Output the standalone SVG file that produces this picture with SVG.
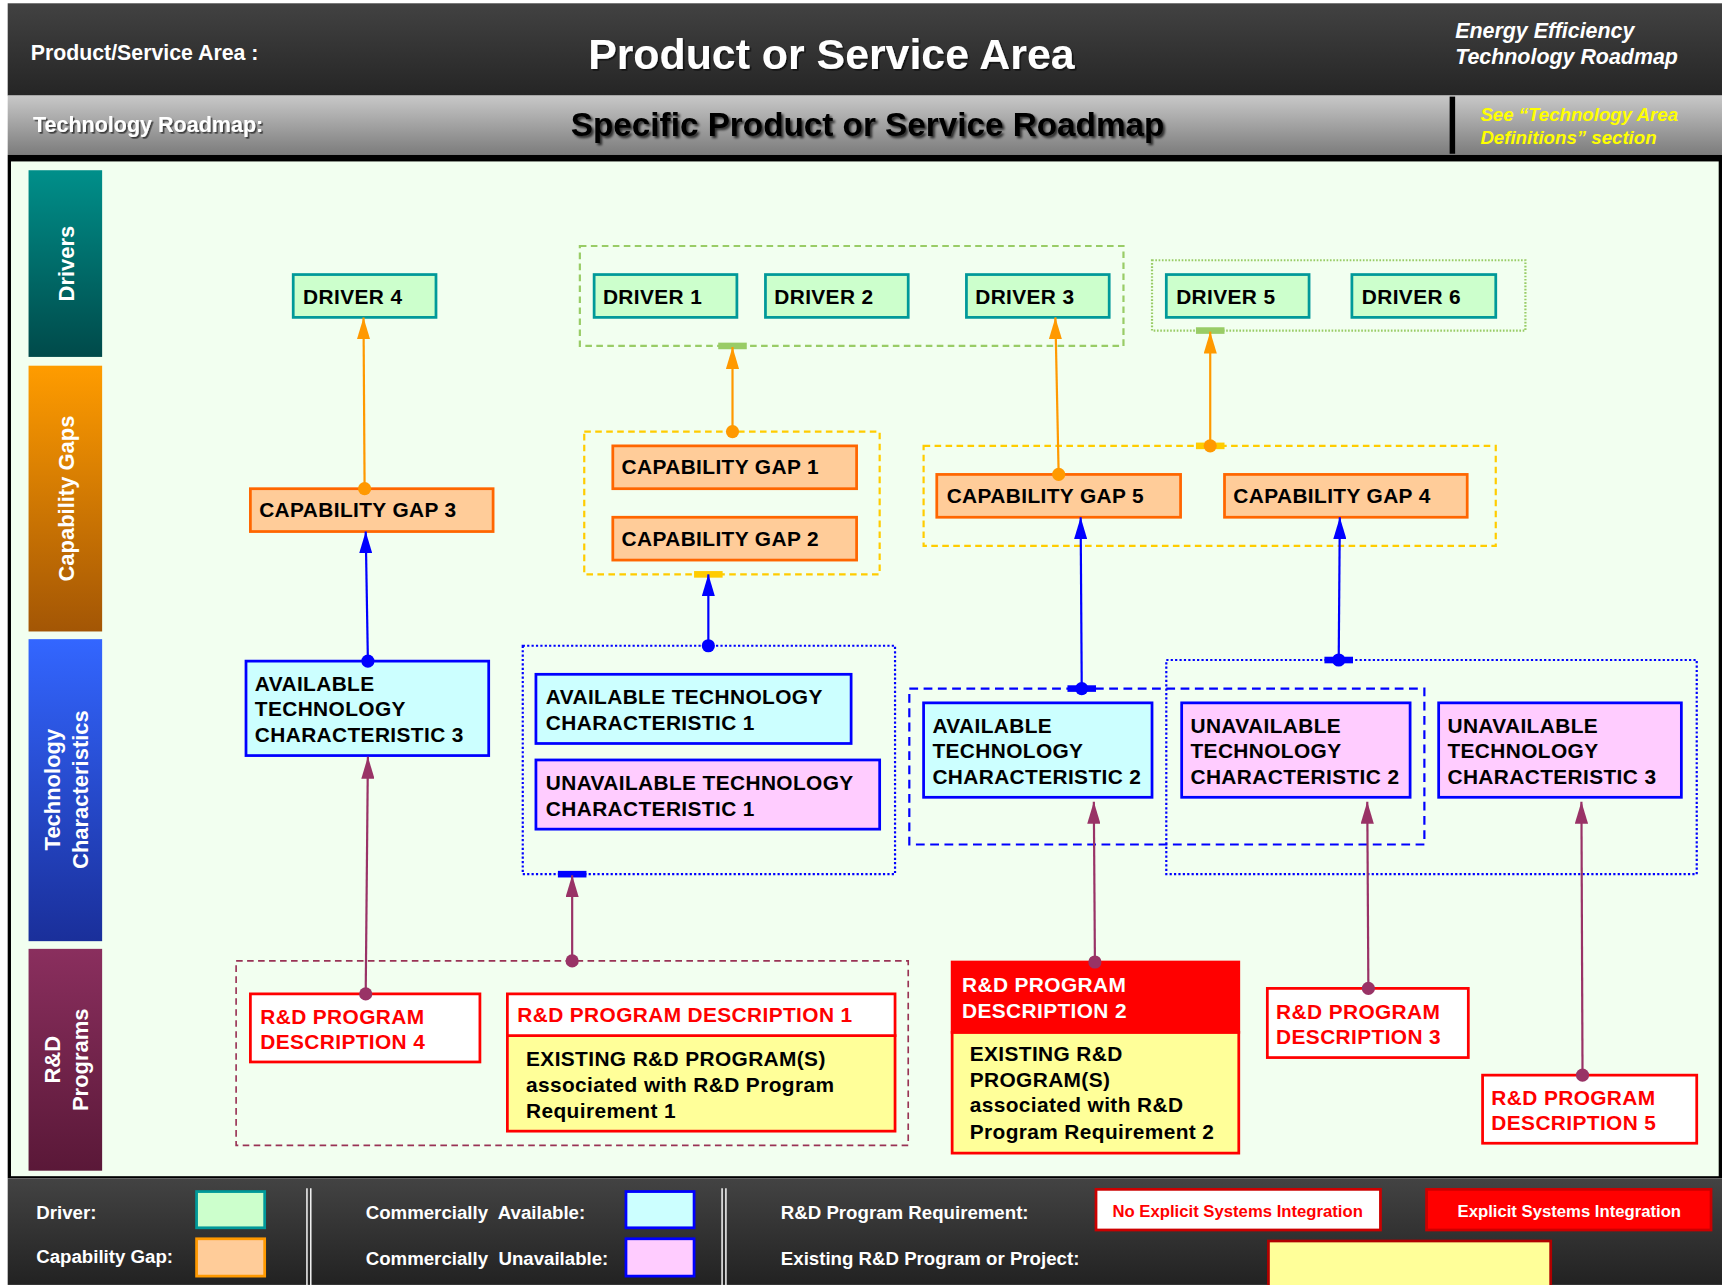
<svg xmlns="http://www.w3.org/2000/svg" width="1722" height="1285" viewBox="0 0 1722 1285">
<defs>
<linearGradient id="gHead" x1="0" y1="0" x2="0" y2="1"><stop offset="0" stop-color="#424242"/><stop offset="1" stop-color="#252525"/></linearGradient>
<linearGradient id="gSub" x1="0" y1="0" x2="0" y2="1"><stop offset="0" stop-color="#c8c8c8"/><stop offset="1" stop-color="#7c7c7c"/></linearGradient>
<linearGradient id="gLeg" x1="0" y1="0" x2="0" y2="1"><stop offset="0" stop-color="#434343"/><stop offset="1" stop-color="#222222"/></linearGradient>
<linearGradient id="gDrv" x1="0" y1="0" x2="0" y2="1"><stop offset="0" stop-color="#008f8a"/><stop offset="1" stop-color="#004a4a"/></linearGradient>
<linearGradient id="gCap" x1="0" y1="0" x2="0" y2="1"><stop offset="0" stop-color="#ff9c00"/><stop offset="1" stop-color="#a35605"/></linearGradient>
<linearGradient id="gTec" x1="0" y1="0" x2="0" y2="1"><stop offset="0" stop-color="#3366ff"/><stop offset="1" stop-color="#1a2f9a"/></linearGradient>
<linearGradient id="gRnd" x1="0" y1="0" x2="0" y2="1"><stop offset="0" stop-color="#8a2f5e"/><stop offset="1" stop-color="#5a1838"/></linearGradient>
<filter id="shadow" x="-5%" y="-20%" width="110%" height="150%"><feDropShadow dx="2" dy="2" stdDeviation="0.8" flood-color="#000" flood-opacity="0.7"/></filter>
<filter id="shadowL" x="-5%" y="-20%" width="110%" height="150%"><feDropShadow dx="1.5" dy="1.5" stdDeviation="0.6" flood-color="#000" flood-opacity="0.6"/></filter>
<marker id="aO" markerUnits="userSpaceOnUse" markerWidth="12" markerHeight="20" refX="6" refY="0" viewBox="0 0 12 20"><path d="M0,20 L6,0 L12,20 z" fill="#ff9900"/></marker>
<marker id="aB" markerUnits="userSpaceOnUse" markerWidth="12" markerHeight="20" refX="6" refY="0" viewBox="0 0 12 20"><path d="M0,20 L6,0 L12,20 z" fill="#0000ff"/></marker>
<marker id="aM" markerUnits="userSpaceOnUse" markerWidth="12" markerHeight="20" refX="6" refY="0" viewBox="0 0 12 20"><path d="M0,20 L6,0 L12,20 z" fill="#993366"/></marker>
<marker id="dO" markerUnits="userSpaceOnUse" markerWidth="14" markerHeight="14" refX="7" refY="7" viewBox="0 0 14 14"><circle cx="7" cy="7" r="6" fill="#ff9900"/></marker>
<marker id="dB" markerUnits="userSpaceOnUse" markerWidth="14" markerHeight="14" refX="7" refY="7" viewBox="0 0 14 14"><circle cx="7" cy="7" r="6" fill="#0000ff"/></marker>
<marker id="dM" markerUnits="userSpaceOnUse" markerWidth="14" markerHeight="14" refX="7" refY="7" viewBox="0 0 14 14"><circle cx="7" cy="7" r="6" fill="#993366"/></marker>
</defs>
<style>
text{font-family:"Liberation Sans",Arial,Helvetica,sans-serif;font-weight:bold}
.drv{fill:#ccffcc;stroke:#009999;stroke-width:2.5}
.cap{fill:#ffcc99;stroke:#ff6600;stroke-width:2.5}
.av{fill:#ccffff;stroke:#0000ff;stroke-width:2.5}
.un{fill:#ffccff;stroke:#0000ff;stroke-width:2.5}
.rd{fill:#ffffff;stroke:#ff0000;stroke-width:2.5}
.rdf{fill:#ff0000;stroke:#ff0000;stroke-width:2.5}
.ex{fill:#ffff99;stroke:#ff0000;stroke-width:2.5}
.t{font-size:19px;fill:#000;letter-spacing:0.35px}
.tr{font-size:19px;fill:#ff0000;letter-spacing:0.35px}
.tw{font-size:19px;fill:#fff;letter-spacing:0.35px}
.band{font-size:20px;fill:#fff}
.leg{font-size:17px;fill:#fff}
.oc{stroke:#ff9900;stroke-width:2;fill:none}
.bc{stroke:#0000ff;stroke-width:2;fill:none}
.mc{stroke:#993366;stroke-width:2;fill:none}
.grpG{fill:none;stroke:#99cc66;stroke-width:2;stroke-dasharray:6,4}
.grpGd{fill:none;stroke:#99cc66;stroke-width:2;stroke-dasharray:1.5,1.5}
.grpY{fill:none;stroke:#ffcc00;stroke-width:2;stroke-dasharray:6,4}
.grpBd{fill:none;stroke:#0000ff;stroke-width:2;stroke-dasharray:2,2}
.grpBs{fill:none;stroke:#0000ff;stroke-width:2;stroke-dasharray:8,5}
.grpM{fill:none;stroke:#993355;stroke-width:1.5;stroke-dasharray:6,4}
</style>
<rect x="0" y="0" width="1722" height="1285" fill="#ffffff"/>
<g transform="scale(1.09821)">
<g id="header">
<rect x="7" y="3" width="1561" height="84" fill="url(#gHead)"/>
<rect x="7" y="87" width="1561" height="54" fill="url(#gSub)"/>
<rect x="1320" y="88" width="5" height="52" fill="#000"/>
<text x="28" y="55" style="font-size:19.4px;fill:#fff">Product/Service Area :</text>
<text x="757" y="63" text-anchor="middle" style="font-size:39px;fill:#fff" filter="url(#shadowL)">Product or Service Area</text>
<text x="1325" y="35" style="font-size:19.5px;font-style:italic;fill:#fff">Energy Efficiency</text>
<text x="1325" y="58" style="font-size:19.5px;font-style:italic;fill:#fff">Technology Roadmap</text>
<text x="30" y="120" style="font-size:19.6px;fill:#fff" filter="url(#shadowL)">Technology Roadmap:</text>
<text x="790" y="124" text-anchor="middle" style="font-size:30.3px;fill:#000" filter="url(#shadow)">Specific Product or Service Roadmap</text>
<text x="1348" y="110" style="font-size:17px;font-style:italic;fill:#ffff00">See “Technology Area</text>
<text x="1348" y="131" style="font-size:17px;font-style:italic;fill:#ffff00">Definitions” section</text>
</g>
<g id="panel">
<rect x="7" y="141" width="1561" height="932" fill="#000"/>
<rect x="10" y="147" width="1555" height="924" fill="#f2fff0"/>
</g>
<g id="band-drivers">
<rect x="26" y="155" width="67" height="170" fill="url(#gDrv)"/>
<text transform="translate(67,240) rotate(-90)" text-anchor="middle" class="band">Drivers</text>
</g>
<g id="band-gaps">
<rect x="26" y="333" width="67" height="242" fill="url(#gCap)"/>
<text transform="translate(67,454) rotate(-90)" text-anchor="middle" class="band">Capability Gaps</text>
</g>
<g id="band-tech">
<rect x="26" y="582" width="67" height="275" fill="url(#gTec)"/>
<text transform="translate(55,719) rotate(-90)" text-anchor="middle" class="band">Technology</text>
<text transform="translate(80,719) rotate(-90)" text-anchor="middle" class="band">Characteristics</text>
</g>
<g id="band-rnd">
<rect x="26" y="864" width="67" height="202" fill="url(#gRnd)"/>
<text transform="translate(55,965) rotate(-90)" text-anchor="middle" class="band">R&amp;D</text>
<text transform="translate(80,965) rotate(-90)" text-anchor="middle" class="band">Programs</text>
</g>
<g id="groups">
<rect x="528" y="224" width="495" height="91" class="grpG"/>
<rect x="1049" y="237" width="340" height="64" class="grpGd"/>
<rect x="532" y="393" width="269" height="130" class="grpY"/>
<rect x="841" y="406" width="521" height="91" class="grpY"/>
<rect x="476" y="588" width="339" height="208" class="grpBd"/>
<rect x="828" y="627" width="469" height="142" class="grpBs"/>
<rect x="1062" y="601" width="483" height="195" class="grpBd"/>
<rect x="215" y="875" width="612" height="168" class="grpM"/>
</g>
<g id="driver4"><rect x="267" y="250" width="130" height="39" class="drv"/><text x="276" y="277" class="t">DRIVER 4</text></g>
<g id="driver1"><rect x="541" y="250" width="130" height="39" class="drv"/><text x="549" y="277" class="t">DRIVER 1</text></g>
<g id="driver2"><rect x="697" y="250" width="130" height="39" class="drv"/><text x="705" y="277" class="t">DRIVER 2</text></g>
<g id="driver3"><rect x="880" y="250" width="130" height="39" class="drv"/><text x="888" y="277" class="t">DRIVER 3</text></g>
<g id="driver5"><rect x="1062" y="250" width="130" height="39" class="drv"/><text x="1071" y="277" class="t">DRIVER 5</text></g>
<g id="driver6"><rect x="1231" y="250" width="131" height="39" class="drv"/><text x="1240" y="277" class="t">DRIVER 6</text></g>
<g id="gap3"><rect x="228" y="445" width="221" height="39" class="cap"/><text x="236" y="471" class="t">CAPABILITY GAP 3</text></g>
<g id="gap1"><rect x="558" y="406" width="222" height="39" class="cap"/><text x="566" y="432" class="t">CAPABILITY GAP 1</text></g>
<g id="gap2"><rect x="558" y="471" width="222" height="39" class="cap"/><text x="566" y="497" class="t">CAPABILITY GAP 2</text></g>
<g id="gap5"><rect x="853" y="432" width="222" height="39" class="cap"/><text x="862" y="458" class="t">CAPABILITY GAP 5</text></g>
<g id="gap4"><rect x="1115" y="432" width="221" height="39" class="cap"/><text x="1123" y="458" class="t">CAPABILITY GAP 4</text></g>
<g id="avail3"><rect x="224" y="602" width="221" height="86" class="av"/><text x="232" y="629" class="t">AVAILABLE</text><text x="232" y="652" class="t">TECHNOLOGY</text><text x="232" y="676" class="t">CHARACTERISTIC 3</text></g>
<g id="avail1"><rect x="488" y="614" width="287" height="63" class="av"/><text x="497" y="641" class="t">AVAILABLE TECHNOLOGY</text><text x="497" y="665" class="t">CHARACTERISTIC 1</text></g>
<g id="unavail1"><rect x="488" y="692" width="313" height="63" class="un"/><text x="497" y="719" class="t">UNAVAILABLE TECHNOLOGY</text><text x="497" y="743" class="t">CHARACTERISTIC 1</text></g>
<g id="avail2"><rect x="841" y="640" width="208" height="86" class="av"/><text x="849" y="667" class="t">AVAILABLE</text><text x="849" y="690" class="t">TECHNOLOGY</text><text x="849" y="714" class="t">CHARACTERISTIC 2</text></g>
<g id="unavail2"><rect x="1076" y="640" width="208" height="86" class="un"/><text x="1084" y="667" class="t">UNAVAILABLE</text><text x="1084" y="690" class="t">TECHNOLOGY</text><text x="1084" y="714" class="t">CHARACTERISTIC 2</text></g>
<g id="unavail3"><rect x="1310" y="640" width="221" height="86" class="un"/><text x="1318" y="667" class="t">UNAVAILABLE</text><text x="1318" y="690" class="t">TECHNOLOGY</text><text x="1318" y="714" class="t">CHARACTERISTIC 3</text></g>
<g id="rnd4"><rect x="228" y="905" width="209" height="62" class="rd"/><text x="237" y="932" class="tr">R&amp;D PROGRAM</text><text x="237" y="955" class="tr">DESCRIPTION 4</text></g>
<g id="rnd1"><rect x="462" y="943" width="353" height="87" class="ex"/><rect x="462" y="905" width="353" height="38" class="rd"/><text x="471" y="931" class="tr">R&amp;D PROGRAM DESCRIPTION 1</text><text x="479" y="971" class="t">EXISTING R&amp;D PROGRAM(S)</text><text x="479" y="994" class="t">associated with R&amp;D Program</text><text x="479" y="1018" class="t">Requirement 1</text></g>
<g id="rnd2"><rect x="867" y="940" width="261" height="110" class="ex"/><rect x="867" y="876" width="261" height="64" class="rdf"/><text x="876" y="903" class="tw">R&amp;D PROGRAM</text><text x="876" y="927" class="tw">DESCRIPTION 2</text><text x="883" y="966" class="t">EXISTING R&amp;D</text><text x="883" y="990" class="t">PROGRAM(S)</text><text x="883" y="1013" class="t">associated with R&amp;D</text><text x="883" y="1037" class="t">Program Requirement 2</text></g>
<g id="rnd3"><rect x="1154" y="900" width="183" height="63" class="rd"/><text x="1162" y="928" class="tr">R&amp;D PROGRAM</text><text x="1162" y="951" class="tr">DESCRIPTION 3</text></g>
<g id="rnd5"><rect x="1350" y="979" width="195" height="62" class="rd"/><text x="1358" y="1006" class="tr">R&amp;D PROGRAM</text><text x="1358" y="1029" class="tr">DESCRIPTION 5</text></g>
<g id="connectors">
<rect x="654" y="312" width="26" height="6" fill="#99cc66"/>
<rect x="1089" y="298" width="26" height="6" fill="#99cc66"/>
<rect x="1089" y="403" width="26" height="6" fill="#ffcc00"/>
<rect x="632" y="520" width="26" height="6" fill="#ffcc00"/>
<rect x="972" y="624" width="26" height="6" fill="#0000ff"/>
<rect x="1206" y="598" width="26" height="6" fill="#0000ff"/>
<rect x="508" y="793" width="26" height="6" fill="#0000ff"/>
<path d="M332,445 L331,289" class="oc" marker-start="url(#dO)" marker-end="url(#aO)"/>
<path d="M667,393 L667,316" class="oc" marker-start="url(#dO)" marker-end="url(#aO)"/>
<path d="M964,432 L961,289" class="oc" marker-start="url(#dO)" marker-end="url(#aO)"/>
<path d="M1102,406 L1102,302" class="oc" marker-start="url(#dO)" marker-end="url(#aO)"/>
<path d="M335,602 L333,484" class="bc" marker-start="url(#dB)" marker-end="url(#aB)"/>
<path d="M645,588 L645,523" class="bc" marker-start="url(#dB)" marker-end="url(#aB)"/>
<path d="M985,627 L984,471" class="bc" marker-start="url(#dB)" marker-end="url(#aB)"/>
<path d="M1219,601 L1220,471" class="bc" marker-start="url(#dB)" marker-end="url(#aB)"/>
<path d="M333,905 L335,689" class="mc" marker-start="url(#dM)" marker-end="url(#aM)"/>
<path d="M521,875 L521,797" class="mc" marker-start="url(#dM)" marker-end="url(#aM)"/>
<path d="M997,876 L996,730" class="mc" marker-start="url(#dM)" marker-end="url(#aM)"/>
<path d="M1246,900 L1245,730" class="mc" marker-start="url(#dM)" marker-end="url(#aM)"/>
<path d="M1441,979 L1440,730" class="mc" marker-start="url(#dM)" marker-end="url(#aM)"/>
</g>
<g id="legend">
<rect x="7" y="1073" width="1561" height="97" fill="url(#gLeg)"/>
<text x="33" y="1110" class="leg">Driver:</text>
<rect x="179" y="1085" width="62" height="33" fill="#ccffcc" stroke="#009999" stroke-width="2.5"/>
<text x="33" y="1150" class="leg">Capability Gap:</text>
<rect x="179" y="1128" width="62" height="34" fill="#ffcc99" stroke="#ff9900" stroke-width="2.5"/>
<path d="M279.5,1082 V1170 M283,1082 V1170" stroke="#ffffff" stroke-width="1.3"/>
<text x="333" y="1110" class="leg" xml:space="preserve">Commercially  Available:</text>
<rect x="570" y="1085" width="62" height="33" fill="#ccffff" stroke="#0000ff" stroke-width="2.5"/>
<text x="333" y="1152" class="leg" xml:space="preserve">Commercially  Unavailable:</text>
<rect x="570" y="1128" width="62" height="34" fill="#ffccff" stroke="#0000ff" stroke-width="2.5"/>
<path d="M657.5,1082 V1170 M661,1082 V1170" stroke="#ffffff" stroke-width="1.3"/>
<text x="711" y="1110" class="leg">R&amp;D Program Requirement:</text>
<rect x="998" y="1083" width="259" height="37" fill="#ffffff" stroke="#cc0000" stroke-width="2.5"/>
<text x="1127" y="1108" text-anchor="middle" style="font-size:15.2px;fill:#ff0000">No Explicit Systems Integration</text>
<rect x="1299" y="1083" width="259" height="37" fill="#ff0000" stroke="#cc0000" stroke-width="2.5"/>
<text x="1429" y="1108" text-anchor="middle" style="font-size:15.2px;fill:#ffffff">Explicit Systems Integration</text>
<text x="711" y="1152" class="leg">Existing R&amp;D Program or Project:</text>
<rect x="1155" y="1130" width="257" height="42" fill="#ffff99" stroke="#b00000" stroke-width="2.5"/>
</g>
</g>
</svg>
